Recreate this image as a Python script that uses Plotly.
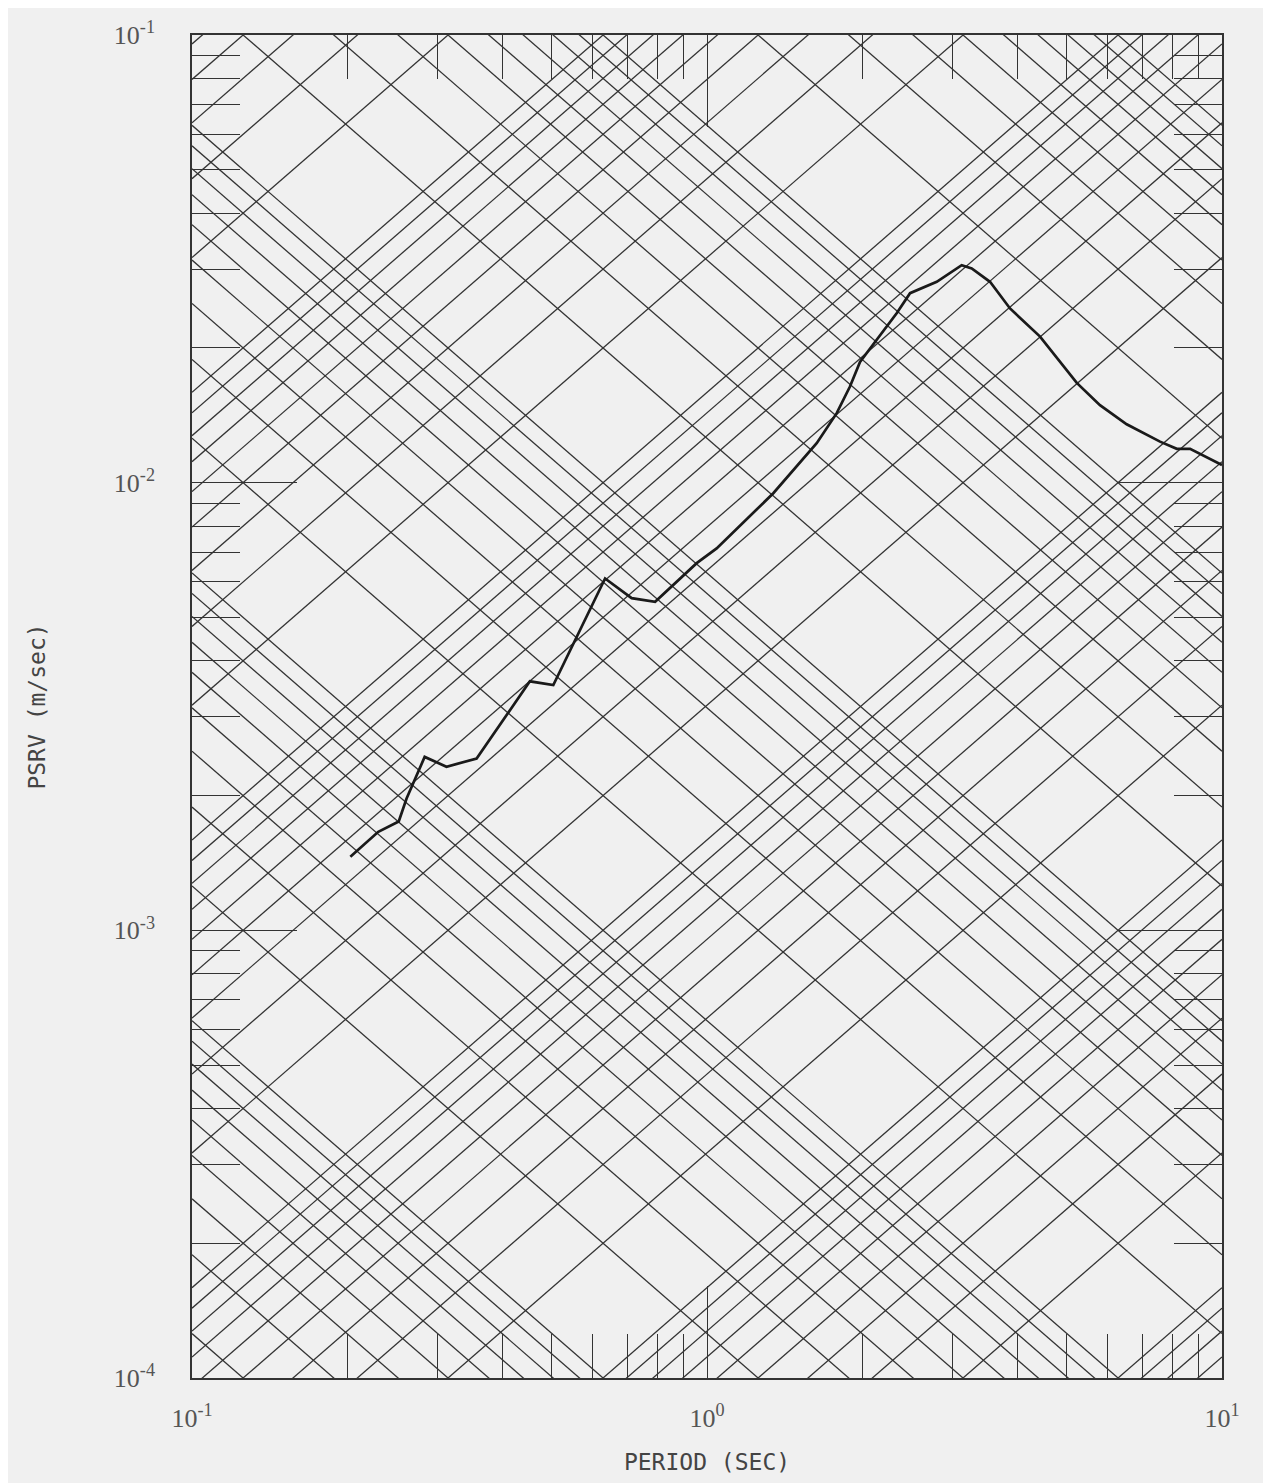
import numpy as np
import plotly.graph_objects as go

# ---- response spectrum curve ----
PERIOD = [0.203, 0.230, 0.252, 0.261, 0.283, 0.312, 0.357, 0.427, 0.453, 0.503,
          0.634, 0.714, 0.793, 0.955, 1.044, 1.345, 1.633, 1.786, 1.895, 1.982,
          2.136, 2.335, 2.479, 2.793, 3.123, 3.266, 3.544, 3.876, 4.433, 5.224,
          5.795, 6.53, 7.58, 8.17, 8.67, 10.0]
PSRV = [1.46e-3, 1.66e-3, 1.75e-3, 1.97e-3, 2.44e-3, 2.32e-3, 2.42e-3, 3.27e-3, 3.60e-3, 3.53e-3,
        6.11e-3, 5.52e-3, 5.42e-3, 6.61e-3, 7.13e-3, 9.47e-3, 1.225e-2, 1.43e-2, 1.64e-2, 1.86e-2,
        2.08e-2, 2.39e-2, 2.65e-2, 2.81e-2, 3.06e-2, 3.01e-2, 2.81e-2, 2.45e-2, 2.12e-2, 1.67e-2,
        1.49e-2, 1.35e-2, 1.235e-2, 1.19e-2, 1.19e-2, 1.095e-2]

# ---- tripartite grid values ----
GRID_MANTISSAS = [1, 2, 3, 4, 5, 6, 7, 8, 9]
DISP_DECADES = [-7, -6, -5, -4, -3, -2, -1]      # displacement (m)
ACC_DECADES = [-6, -5, -4, -3, -2, -1, 0]        # acceleration (m/s^2)

# ---- axis ticks ----
X_TICKVALS = [0.1, 1, 10]
X_TICKTEXT = ["10<sup>-1</sup>", "10<sup>0</sup>", "10<sup>1</sup>"]
Y_TICKVALS = [1e-4, 1e-3, 1e-2, 1e-1]
Y_TICKTEXT = ["10<sup>-4</sup>", "10<sup>-3</sup>", "10<sup>-2</sup>", "10<sup>-1</sup>"]
X_MINOR = [m * 10.0 ** k for k in (-1, 0) for m in range(2, 10)]
Y_MINOR = [m * 10.0 ** k for k in (-4, -3, -2) for m in range(2, 10)]

T_ENDS = [0.1, 10.0]
TWO_PI = 2 * np.pi

fig = go.Figure()

# displacement lines: SV = 2*pi*D / T
dx, dy = [], []
for k in DISP_DECADES:
    for m in GRID_MANTISSAS:
        d = m * 10.0 ** k
        for t in T_ENDS:
            dx.append(t)
            dy.append(TWO_PI * d / t)
        dx.append(None)
        dy.append(None)
fig.add_trace(go.Scatter(x=dx, y=dy, mode="lines",
                         line=dict(color="#343434", width=1.3),
                         hoverinfo="skip", showlegend=False))

# acceleration lines: SV = A * T / (2*pi)
ax_, ay_ = [], []
for k in ACC_DECADES:
    for m in GRID_MANTISSAS:
        a = m * 10.0 ** k
        for t in T_ENDS:
            ax_.append(t)
            ay_.append(a * t / TWO_PI)
        ax_.append(None)
        ay_.append(None)
fig.add_trace(go.Scatter(x=ax_, y=ay_, mode="lines",
                         line=dict(color="#343434", width=1.3),
                         hoverinfo="skip", showlegend=False))

# spectrum curve
fig.add_trace(go.Scatter(x=PERIOD, y=PSRV, mode="lines",
                         line=dict(color="#1a1a1a", width=2.7),
                         showlegend=False))

tick_font = dict(family="Liberation Serif", size=26, color="#555555")
title_font = dict(family="DejaVu Sans Mono", size=23, color="#444444")

fig.update_xaxes(
    type="log", range=[-1, 1],
    tickmode="array", tickvals=X_TICKVALS, ticktext=X_TICKTEXT,
    ticks="inside", ticklen=92, tickwidth=1.3, tickcolor="#333333",
    minor=dict(tickmode="array", tickvals=X_MINOR, ticks="inside",
               ticklen=44, tickwidth=1.3, tickcolor="#333333", showgrid=False),
    showgrid=False, zeroline=False,
    showline=True, linecolor="#333333", linewidth=1.6, mirror="allticks",
    tickfont=tick_font, ticklabelstandoff=16,
    title=dict(text="PERIOD (SEC)", font=title_font, standoff=22),
)
fig.update_yaxes(
    type="log", range=[-4, -1],
    tickmode="array", tickvals=Y_TICKVALS, ticktext=Y_TICKTEXT,
    ticks="inside", ticklen=105, tickwidth=1.3, tickcolor="#333333",
    minor=dict(tickmode="array", tickvals=Y_MINOR, ticks="inside",
               ticklen=48, tickwidth=1.3, tickcolor="#333333", showgrid=False),
    showgrid=False, zeroline=False,
    showline=True, linecolor="#333333", linewidth=1.6, mirror="allticks",
    tickfont=tick_font, ticklabelstandoff=30,
    title=dict(text="PSRV (m/sec)", font=title_font, standoff=62),
)

fig.update_layout(
    width=1271, height=1483,
    margin=dict(l=184, r=57, t=27, b=113, autoexpand=False),
    paper_bgcolor="#f0f0f0", plot_bgcolor="#f0f0f0",
    showlegend=False,
)

fig.write_html("out.html")
